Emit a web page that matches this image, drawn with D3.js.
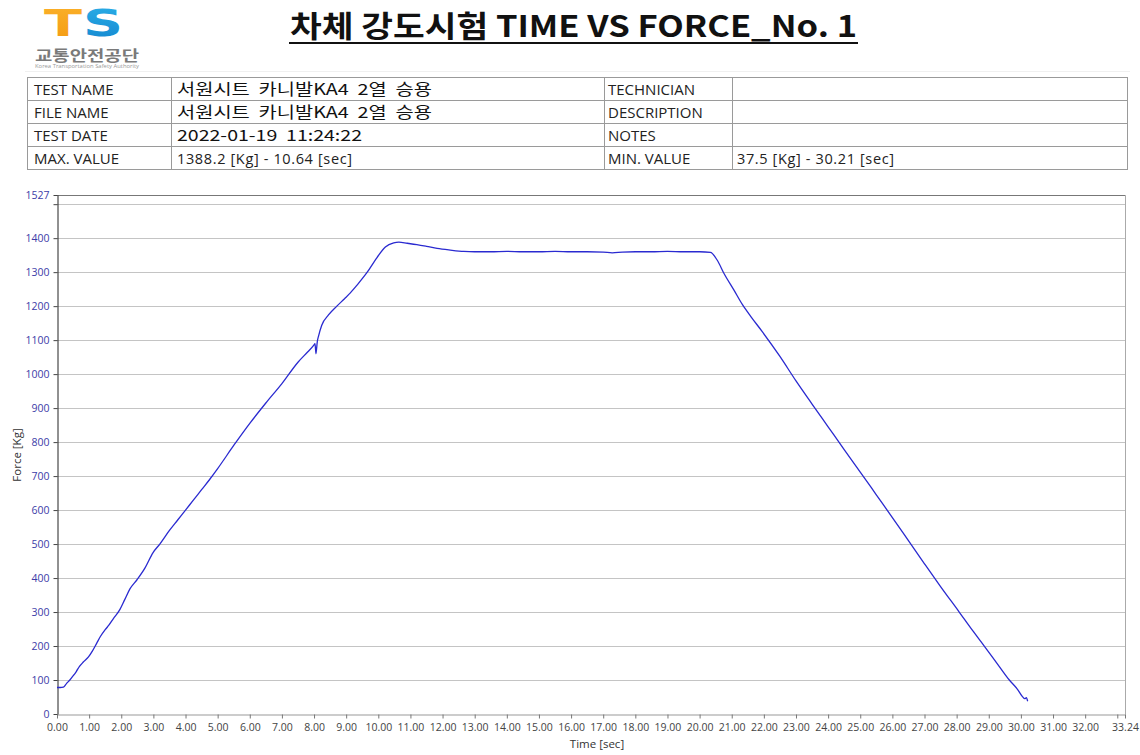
<!DOCTYPE html>
<html><head><meta charset="utf-8">
<script src="https://cdn.jsdelivr.net/npm/d3@7"></script>
<style>
html,body{margin:0;padding:0;background:#fff;}
svg{display:block;}
</style></head>
<body>
<svg id="c" width="1140" height="755"></svg>
<script>
// ---- data ----
const timeSec = [0,0.1,0.2,0.3,0.4,0.5,0.6,0.7,0.82,0.98,1.1,1.23,1.35,1.5,1.62,1.75,1.96,2.1,2.27,2.49,2.74,2.99,3.2,3.5,3.75,4.0,4.25,4.5,4.75,5.0,5.5,6.0,6.5,7.0,7.5,7.8,8.0,8.03,8.06,8.1,8.14,8.24,8.45,8.71,8.95,9.13,9.34,9.65,9.96,10.22,10.48,10.64,10.9,11.2,11.5,11.83,12.24,12.66,13.0,13.5,14.0,14.5,15.0,15.5,16.0,16.5,17.0,17.28,17.6,18.0,18.5,19.0,19.5,20.0,20.34,20.55,20.76,21.07,21.33,21.59,21.95,22.5,23.0,23.5,24.0,24.5,25.0,25.5,26.0,26.5,27.0,27.5,28.08,28.5,28.86,29.25,29.64,29.9,30.05,30.12,30.17,30.21];
const forceKg = [78,78,79,90,100,112,125,140,153,168,185,207,228,248,262,280,308,335,368,395,430,475,500,540,570,600,630,660,690,722,790,855,915,972,1035,1065,1086,1090,1060,1095,1112,1144,1174,1200,1222,1239,1262,1299,1343,1374,1386,1388.2,1385,1381,1376,1370,1365,1361,1360,1360,1361,1360,1360,1361,1360,1360,1359,1357,1359,1360,1360,1361,1360,1360,1358,1335,1296,1247,1205,1170,1125,1052,980,912,845,778,712,645,578,510,442,375,300,245,200,150,100,72,51,45,48,37.5];
const yTicks = [0,100,200,300,400,500,600,700,800,900,1000,1100,1200,1300,1400,1500,1527];
const yLabelTicks = [0,100,200,300,400,500,600,700,800,900,1000,1100,1200,1300,1400,1527];
const xTicks = [0,1,2,3,4,5,6,7,8,9,10,11,12,13,14,15,16,17,18,19,20,21,22,23,24,25,26,27,28,29,30,31,32,33,33.24];
const xLabelTicks = [0,1,2,3,4,5,6,7,8,9,10,11,12,13,14,15,16,17,18,19,20,21,22,23,24,25,26,27,28,29,30,31,32,33.24];
const gridValues = [100,200,300,400,500,600,700,800,900,1000,1100,1200,1300,1400,1500];
const tableLeft = [["TEST NAME","서원시트  카니발KA4  2열  승용"],["FILE NAME","서원시트  카니발KA4  2열  승용"],["TEST DATE","2022-01-19  11:24:22"],["MAX. VALUE","1388.2 [Kg] - 10.64 [sec]"]];
const tableRight = [["TECHNICIAN",""],["DESCRIPTION",""],["NOTES",""],["MIN. VALUE","37.5 [Kg] - 30.21 [sec]"]];
const titleText = "차체 강도시험 TIME VS FORCE_No. 1";

const svg = d3.select("#c");
const latin = "'Open Sans','Noto Sans',sans-serif";
const kr = "'Noto Sans CJK KR','Noto Sans',sans-serif";

// ---- header / logo ----
const defs = svg.append("defs");
const go = defs.append("linearGradient").attr("id","gOr").attr("x1",0).attr("y1",0).attr("x2",0).attr("y2",1);
go.append("stop").attr("offset","0").attr("stop-color","#fbb12b");
go.append("stop").attr("offset","1").attr("stop-color","#f39a12");
const gb = defs.append("linearGradient").attr("id","gBl").attr("x1",0).attr("y1",0).attr("x2",0).attr("y2",1);
gb.append("stop").attr("offset","0").attr("stop-color","#2bb0e8");
gb.append("stop").attr("offset","1").attr("stop-color","#1386cf");
const logo = svg.append("g");
logo.append("text").attr("x",44).attr("y",35.5).attr("font-family","'DejaVu Sans',sans-serif")
  .attr("font-weight","bold").attr("font-size",37).attr("fill","url(#gOr)").attr("textLength",38).attr("lengthAdjust","spacingAndGlyphs").text("T");
logo.append("text").attr("x",83).attr("y",35.5).attr("font-family","'DejaVu Sans',sans-serif")
  .attr("font-weight","bold").attr("font-size",37).attr("fill","url(#gBl)").attr("textLength",40).attr("lengthAdjust","spacingAndGlyphs").text("S");
logo.append("text").attr("x",35).attr("y",61).attr("font-family",kr).attr("font-weight","bold")
  .attr("font-size",14.5).attr("fill","#7a7a7a").attr("textLength",104).attr("lengthAdjust","spacingAndGlyphs").text("교통안전공단");
logo.append("text").attr("x",35).attr("y",68).attr("font-family",latin)
  .attr("font-size",5).attr("fill","#999").attr("textLength",104).attr("lengthAdjust","spacingAndGlyphs").text("Korea Transportation Safety Authority");
svg.append("line").attr("x1",25).attr("x2",1130).attr("y1",71.5).attr("y2",71.5).attr("stroke","#f0f0f0");

// title
svg.append("text").attr("x",290).attr("y",37).attr("font-family",kr).attr("font-weight","bold")
  .attr("font-size",30).attr("fill","#111").attr("textLength",567).attr("lengthAdjust","spacingAndGlyphs").text(titleText);
svg.append("line").attr("x1",289).attr("x2",858).attr("y1",43).attr("y2",43).attr("stroke","#111").attr("stroke-width",2);

// ---- table ----
const tTop = 77.5, rowH = 23;
const colX = [27.5,171.5,604.5,732.5,1127.5];
const tg = svg.append("g");
tg.append("rect").attr("x",colX[0]).attr("y",tTop).attr("width",colX[4]-colX[0]).attr("height",rowH*4)
  .attr("fill","none").attr("stroke","#9a9a9a");
for(let i=1;i<4;i++) tg.append("line").attr("x1",colX[0]).attr("x2",colX[4]).attr("y1",tTop+i*rowH).attr("y2",tTop+i*rowH).attr("stroke","#9a9a9a");
for(let j=1;j<4;j++) tg.append("line").attr("x1",colX[j]).attr("x2",colX[j]).attr("y1",tTop).attr("y2",tTop+4*rowH).attr("stroke","#9a9a9a");
function rowText(rows, xl, xv, valLen){
  rows.forEach((r,i)=>{
    const cy = tTop + i*rowH + rowH/2;
    tg.append("text").attr("x",xl).attr("y",cy+5.5).attr("font-family",latin).attr("font-size",15)
      .attr("fill","#222").text(r[0]);
    if(!r[1]) return;
    const isKr = /[가-힣]/.test(r[1]);
    const isDate = /\d{4}-\d\d/.test(r[1]);
    const t = tg.append("text").attr("x",xv).attr("xml:space","preserve").style("white-space","pre");
    if(isKr){
      t.attr("y",cy+6).attr("font-family",kr).attr("font-size",15.5).attr("fill","#111")
       .attr("textLength",255).attr("lengthAdjust","spacingAndGlyphs").text(r[1]);
    } else if(isDate){
      t.attr("y",cy+6).attr("font-family",kr).attr("font-size",15.5).attr("fill","#111")
       .attr("textLength",185).attr("lengthAdjust","spacingAndGlyphs").text(r[1]);
    } else {
      t.attr("y",cy+5.5).attr("font-family",latin).attr("font-size",14.5).attr("fill","#222")
       .attr("textLength",valLen).attr("lengthAdjust","spacing").text(r[1]);
    }
  });
}
rowText(tableLeft, 34, 177, 175);
rowText(tableRight, 608, 737, 157);

// ---- chart ----
const x = d3.scaleLinear().domain([0,33.24]).range([57,1125]);
const y = d3.scaleLinear().domain([0,1527]).range([714,195]);

const g = svg.append("g");
g.selectAll(".grid").data(gridValues).join("line")
  .attr("x1",x(0)).attr("x2",x(33.24)).attr("y1",d=>Math.round(y(d))+0.5).attr("y2",d=>Math.round(y(d))+0.5)
  .attr("stroke","#c4c4c4").attr("stroke-width",1);
g.append("line").attr("x1",x(0)).attr("x2",x(33.24)+0.5).attr("y1",195.5).attr("y2",195.5).attr("stroke","#777");
g.append("line").attr("x1",x(33.24)+0.5).attr("x2",x(33.24)+0.5).attr("y1",195.5).attr("y2",714.5).attr("stroke","#aaa");

const xAxis = d3.axisBottom(x).tickValues(xTicks).tickSize(4).tickSizeOuter(0)
  .tickFormat(d=> xLabelTicks.includes(d) ? d.toFixed(2) : "");
const xa = g.append("g").attr("transform","translate(0,714.5)").call(xAxis);
xa.select(".domain").attr("stroke","#999");
xa.selectAll(".tick line").attr("stroke","#777");
xa.selectAll(".tick text").attr("font-family",latin).attr("font-size",10.5).attr("fill","#444").attr("dy","0.9em");

const yAxis = d3.axisLeft(y).tickValues(yTicks).tickSize(4).tickSizeOuter(0)
  .tickFormat(d=> yLabelTicks.includes(d) ? String(d) : "");
const ya = g.append("g").attr("transform","translate(57.5,0)").call(yAxis);
ya.select(".domain").attr("stroke","#222");
ya.selectAll(".tick line").attr("stroke","#444");
ya.selectAll(".tick text").attr("font-family",latin).attr("font-size",10.5).attr("fill","#3c3ca8").attr("dx","-1");

svg.append("text").attr("x",597).attr("y",748).attr("text-anchor","middle").attr("font-family",latin)
  .attr("font-size",11.5).attr("fill","#333").text("Time [sec]");
svg.append("text").attr("transform","translate(21,455) rotate(-90)").attr("text-anchor","middle").attr("font-family",latin)
  .attr("font-size",11.5).attr("fill","#333").text("Force [Kg]");

const data = timeSec.map((t,i)=>[t,forceKg[i]]);
const line = d3.line().x(d=>x(d[0])).y(d=>y(d[1])).curve(d3.curveMonotoneX);
g.append("path").datum(data).attr("d",line).attr("fill","none").attr("stroke","#2a2ad0").attr("stroke-width",1.3);
</script>
</body></html>
